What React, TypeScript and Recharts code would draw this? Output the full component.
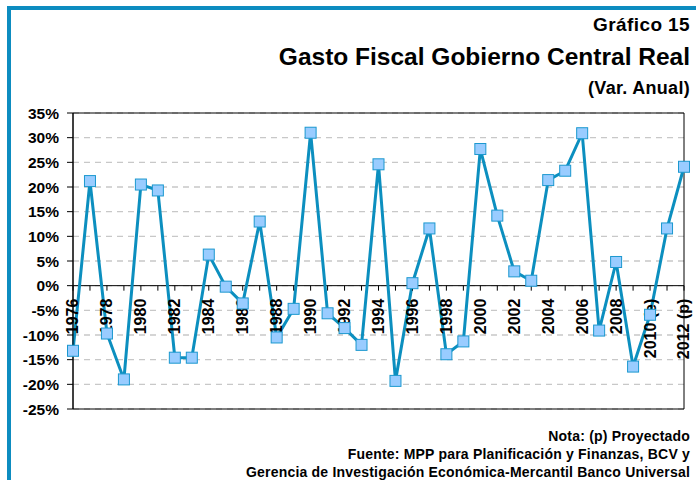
import React from 'react'
import {
  LineChart,
  Line,
  XAxis,
  YAxis,
  CartesianGrid,
  ReferenceLine,
  ReferenceArea,
  ReferenceDot,
} from 'recharts'

const years = [
  '1976', '1977', '1978', '1979', '1980', '1981', '1982', '1983', '1984', '1985',
  '1986', '1987', '1988', '1989', '1990', '1991', '1992', '1993', '1994', '1995',
  '1996', '1997', '1998', '1999', '2000', '2001', '2002', '2003', '2004', '2005',
  '2006', '2007', '2008', '2009', '2010', '2011', '2012',
]

const yearLabels = [
  '1976', '', '1978', '', '1980', '', '1982', '', '1984', '',
  '1986', '', '1988', '', '1990', '', '1992', '', '1994', '',
  '1996', '', '1998', '', '2000', '', '2002', '', '2004', '',
  '2006', '', '2008', '', '2010 (e)', '', '2012 (p)',
]

// variación anual (%)
const gasto = [
  -13.2, 21.2, -9.7, -19.0, 20.5, 19.3, -14.6, -14.6, 6.3, -0.2,
  -3.6, 13.0, -10.5, -4.7, 31.0, -5.6, -8.6, -12.0, 24.6, -19.3,
  0.5, 11.6, -13.9, -11.3, 27.7, 14.2, 2.9, 1.0, 21.4, 23.3,
  30.9, -9.1, 4.8, -16.4, -5.9, 11.6, 24.1,
]

const yTicks = [-25, -20, -15, -10, -5, 0, 5, 10, 15, 20, 25, 30, 35]

const data = years.map((y, i) => ({ year: y, gasto: gasto[i] }))

const FONT = '"Liberation Sans", Arial, sans-serif'

const SquareDot = (props: any) => {
  const { cx, cy, index } = props
  if (cx == null || cy == null) return <g key={index} />
  return (
    <rect key={index} x={cx - 5.5} y={cy - 5.5} width={11} height={11}
      fill="#99ccff" stroke="#1b98cf" strokeWidth={1} />
  )
}

// tick mark + rotated label sitting on the zero line
const YearTick = ({ cx, cy, label }: any) => {
  if (cx == null || cy == null) return <g />
  return (
    <g>
      <line x1={cx} y1={cy} x2={cx} y2={cy + 5} stroke="#000" strokeWidth={1} />
      {label && (
        <text x={cx} y={cy + 13} transform={`rotate(-90, ${cx}, ${cy + 13})`}
          textAnchor="end" dominantBaseline="central"
          fontSize={16} fontWeight="bold" fill="#000" fontFamily={FONT}>
          {label}
        </text>
      )}
    </g>
  )
}

export default function App() {
  return (
    <div style={{ position: 'absolute', left: 0, top: 0, width: 696, height: 480, overflow: 'hidden', background: '#fff', fontFamily: FONT }}>
      <div style={{ position: 'absolute', left: 7, top: 6, width: 800, height: 600, borderTop: '4px solid #0d8cc0', borderLeft: '4px solid #0d8cc0' }} />

      <div style={{ position: 'absolute', right: 6, top: 13, fontSize: 19, fontWeight: 'bold', lineHeight: '24px', letterSpacing: 0.4 }}>Gráfico 15</div>
      <div style={{ position: 'absolute', right: 6, top: 42, fontSize: 24.5, fontWeight: 'bold', lineHeight: '30px' }}>Gasto Fiscal Gobierno Central Real</div>
      <div style={{ position: 'absolute', right: 6, top: 77, fontSize: 18, fontWeight: 'bold', lineHeight: '22px', letterSpacing: 0.3 }}>(Var. Anual)</div>

      <div style={{ position: 'absolute', left: 0, top: 0 }}>
        <LineChart width={696} height={480} data={data}
          margin={{ top: 113, right: 12, bottom: 71, left: 0 }}
          style={{ fontFamily: FONT }}>
          <CartesianGrid vertical={false} stroke="#c8c8c8" strokeWidth={1.3} strokeDasharray="6 5" />
          <XAxis dataKey="year" hide />
          <YAxis domain={[-25, 35]} ticks={yTicks} interval={0} width={73}
            axisLine={{ stroke: '#000' }} tickLine={{ stroke: '#000' }} tickSize={6} tickMargin={8}
            tickFormatter={(v: number) => `${v}%`}
            tick={{ fill: '#000', fontSize: 15.5, fontWeight: 'bold' }} />
          <ReferenceArea x1={years[0]} x2={years[years.length - 1]} y1={-25} y2={35}
            fill="none" stroke="#000" strokeWidth={1} ifOverflow="visible" />
          <ReferenceLine y={0} stroke="#000" strokeWidth={1} />
          {years.map((y, i) => (
            <ReferenceDot key={y} x={y} y={0} ifOverflow="visible"
              shape={(p: any) => <YearTick {...p} label={yearLabels[i]} />} />
          ))}
          <Line type="linear" dataKey="gasto" stroke="#0c8fbf" strokeWidth={3}
            dot={<SquareDot />} activeDot={false} isAnimationActive={false} />
        </LineChart>
      </div>

      <div style={{ position: 'absolute', right: 6, top: 427, fontSize: 14, fontWeight: 'bold', lineHeight: '18px', textAlign: 'right', letterSpacing: 0.2 }}>
        Nota: (p) Proyectado<br />
        Fuente: MPP para Planificación y Finanzas, BCV y<br />
        Gerencia de Investigación Económica-Mercantil Banco Universal
      </div>
    </div>
  )
}
